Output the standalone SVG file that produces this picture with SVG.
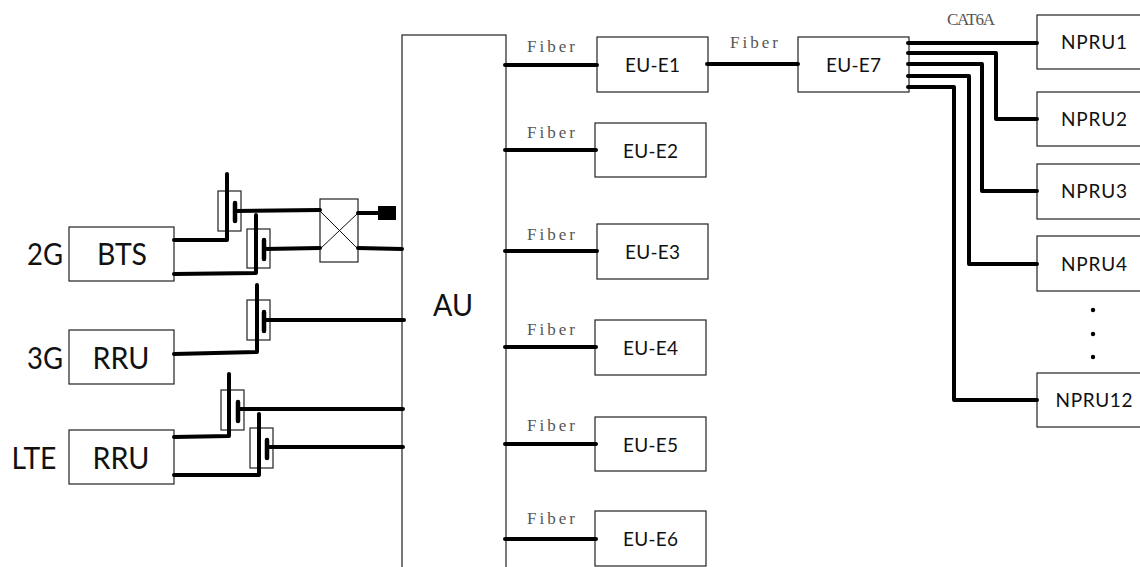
<svg xmlns="http://www.w3.org/2000/svg" width="1140" height="567" viewBox="0 0 1140 567">
<style>
.box{fill:#fff;stroke:#222;stroke-width:1.2}
.th{fill:none;stroke:#000;stroke-width:4;stroke-linecap:round;stroke-linejoin:round}
.thin{fill:none;stroke:#111;stroke-width:1}
.bar{fill:none;stroke:#000;stroke-width:4.5;stroke-linecap:round}
.f{font-family:"Liberation Serif",serif;font-size:17px;fill:#555}
.s{font-family:Lato,"Liberation Sans",sans-serif;font-size:19px;fill:#111;text-anchor:middle}
.m{font-family:Lato,"Liberation Sans",sans-serif;font-size:30px;fill:#111;text-anchor:middle}
</style>
<g id="au"><rect class="box" x="402" y="35" width="104" height="540"/><text class="m" x="453" y="316" textLength="40" lengthAdjust="spacingAndGlyphs">AU</text></g>
<g id="bts"><rect class="box" x="69" y="227" width="105" height="54"/><text class="m" x="122" y="265" textLength="50" lengthAdjust="spacingAndGlyphs">BTS</text></g>
<g id="rru3g"><rect class="box" x="69" y="330" width="105" height="54"/><text class="m" x="121" y="369" textLength="57" lengthAdjust="spacingAndGlyphs">RRU</text></g>
<g id="rrulte"><rect class="box" x="69" y="430" width="105" height="54"/><text class="m" x="121" y="469" textLength="57" lengthAdjust="spacingAndGlyphs">RRU</text></g>
<g id="label-2g"><text class="m" x="45" y="265" textLength="36" lengthAdjust="spacingAndGlyphs">2G</text></g>
<g id="label-3g"><text class="m" x="45" y="369" textLength="36" lengthAdjust="spacingAndGlyphs">3G</text></g>
<g id="label-lte"><text class="m" x="34" y="469" textLength="45" lengthAdjust="spacingAndGlyphs">LTE</text></g>
<g id="coupler1"><rect class="box" x="218" y="191" width="23" height="40"/></g>
<g id="coupler2"><rect class="box" x="247" y="229" width="23" height="39"/></g>
<g id="coupler3"><rect class="box" x="247" y="300" width="23" height="40"/></g>
<g id="coupler4"><rect class="box" x="221" y="390" width="23" height="40"/></g>
<g id="coupler5"><rect class="box" x="250" y="428" width="23" height="40"/></g>
<g id="hybrid"><rect class="box" x="320" y="199" width="38" height="63"/><path class="thin" d="M320 211L358 249M320 249L358 213"/></g>
<g id="load"><rect x="378" y="206" width="18" height="14" fill="#000"/></g>
<g id="eu1"><rect class="box" x="597" y="37" width="111" height="55"/><text class="s" x="652.500" y="72" textLength="55">EU-E1</text></g>
<g id="eu2"><rect class="box" x="595" y="123" width="111" height="54"/><text class="s" x="650.500" y="158" textLength="55">EU-E2</text></g>
<g id="eu3"><rect class="box" x="597" y="224" width="111" height="55"/><text class="s" x="652.500" y="259" textLength="55">EU-E3</text></g>
<g id="eu4"><rect class="box" x="595" y="320" width="111" height="55"/><text class="s" x="650.500" y="355" textLength="55">EU-E4</text></g>
<g id="eu5"><rect class="box" x="595" y="417" width="111" height="54"/><text class="s" x="650.500" y="452" textLength="55">EU-E5</text></g>
<g id="eu6"><rect class="box" x="595" y="511" width="111" height="55"/><text class="s" x="650.500" y="546" textLength="55">EU-E6</text></g>
<g id="eu7"><rect class="box" x="798" y="37" width="111" height="55"/><text class="s" x="853.500" y="72" textLength="55">EU-E7</text></g>
<g id="npru1"><rect class="box" x="1037" y="15" width="110" height="54"/><text class="s" x="1094" y="49" textLength="66">NPRU1</text></g>
<g id="npru2"><rect class="box" x="1037" y="92" width="110" height="54"/><text class="s" x="1094" y="126" textLength="66">NPRU2</text></g>
<g id="npru3"><rect class="box" x="1037" y="164" width="110" height="55"/><text class="s" x="1094" y="198" textLength="66">NPRU3</text></g>
<g id="npru4"><rect class="box" x="1037" y="236" width="110" height="55"/><text class="s" x="1094" y="271" textLength="66">NPRU4</text></g>
<g id="npru12"><rect class="box" x="1037" y="373" width="110" height="54"/><text class="s" x="1094" y="407" textLength="77">NPRU12</text></g>
<g id="dots" fill="#000"><circle cx="1093" cy="310" r="2.2"/><circle cx="1093" cy="334" r="2.2"/><circle cx="1093" cy="357" r="2.2"/></g>
<g id="connectors">
<path class="th" d="M174 240H227V174M174 274L256 273V215M174 354L257 352V285M174 437L229 436V374M174 475H259V414"/>
<path class="bar" d="M235 203V221M264 240V259M264 312V331M238 402V421M267 440V458"/>
<path class="th" d="M235 211L320 210M264 249L320 248M358 213H378M358 248L402 249M264 320H404M238 409H403M267 447H403"/>
<path class="th" d="M505 65H597M505 150H596M505 251H597M505 347H596M505 444H596M505 539H596M707 64H798"/>
<path class="th" d="M908 43H1037M908 53H996V119H1037M908 64H982V191H1037M908 76H969V264H1037M908 87H954V400H1037"/>
</g>
<g id="labels">
<text class="f" x="527" y="52" textLength="48">Fiber</text><text class="f" x="527" y="138" textLength="48">Fiber</text><text class="f" x="527" y="240" textLength="48">Fiber</text><text class="f" x="527" y="335" textLength="48">Fiber</text><text class="f" x="527" y="431" textLength="48">Fiber</text><text class="f" x="527" y="524" textLength="48">Fiber</text><text class="f" x="730" y="48" textLength="48">Fiber</text><text class="f" x="947" y="25" textLength="48">CAT6A</text>
</g>
</svg>
